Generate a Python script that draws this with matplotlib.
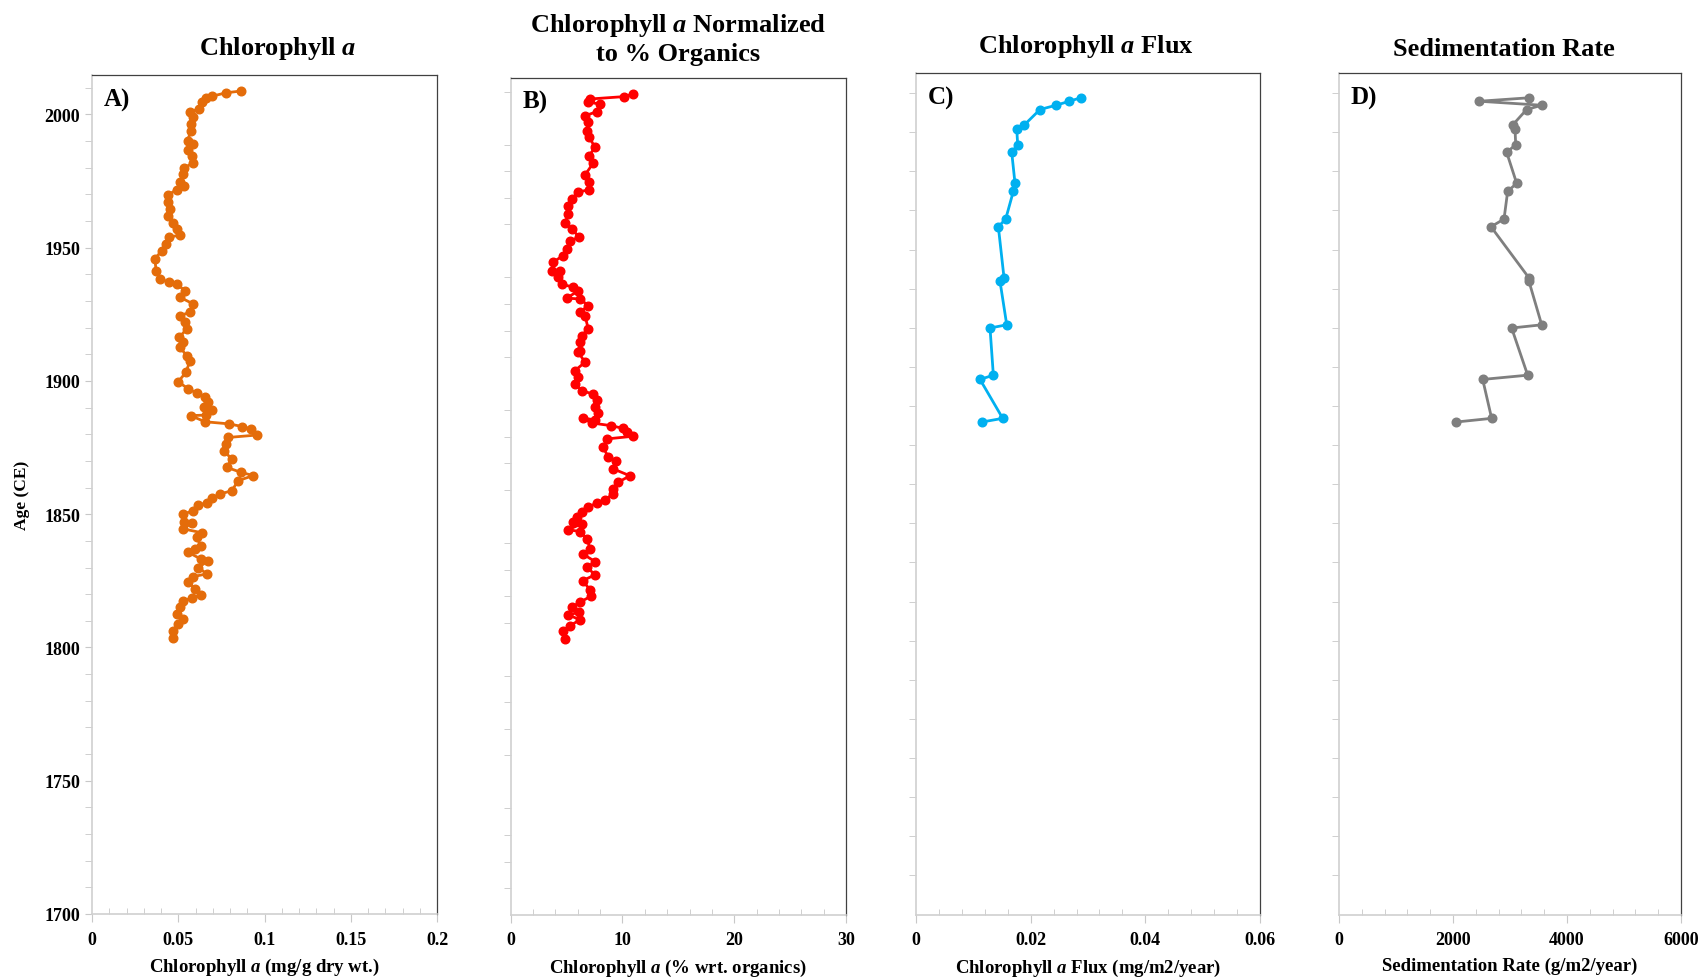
"""Sediment core profiles: chlorophyll a, normalized chl a, flux and sedimentation rate."""

import matplotlib

matplotlib.use("Agg")
import matplotlib.pyplot as plt
import numpy as np
from matplotlib.ticker import MultipleLocator, FixedLocator, FuncFormatter

plt.rcParams["font.family"] = ["Liberation Serif", "DejaVu Serif"]
plt.rcParams["font.weight"] = "bold"
plt.rcParams["axes.labelweight"] = "bold"
plt.rcParams["mathtext.fontset"] = "custom"
plt.rcParams["mathtext.rm"] = "Liberation Serif:bold"
plt.rcParams["mathtext.it"] = "Liberation Serif:italic:bold"

# --- data ---
chl_years = [
    2008.8, 2008.1, 2006.8, 2006.1, 2004.6, 2002.1, 2001.0, 1999.0, 1996.4, 1993.9,
    1990.2, 1988.9, 1986.8, 1984.3, 1981.8, 1979.8, 1977.7, 1974.8, 1973.0, 1971.8,
    1969.8, 1967.0, 1964.5, 1962.0, 1959.3, 1957.0, 1954.8, 1953.9, 1951.4, 1948.9,
    1945.8, 1941.4, 1938.3, 1937.0, 1936.4, 1933.9, 1931.4, 1928.9, 1925.8, 1924.5,
    1922.0, 1919.5, 1916.4, 1914.5, 1912.6, 1909.5, 1907.6, 1903.3, 1899.7, 1897.0,
    1895.5, 1893.9, 1892.0, 1890.1, 1889.2, 1887.2, 1887.0, 1884.7, 1883.9, 1882.9,
    1882.0, 1879.7, 1878.8, 1876.4, 1873.8, 1870.7, 1867.6, 1865.7, 1864.5, 1862.6,
    1858.8, 1857.6, 1856.0, 1854.2, 1853.5, 1851.3, 1850.1, 1847.0, 1846.7, 1844.5,
    1843.0, 1841.3, 1838.2, 1837.0, 1835.7, 1833.2, 1832.6, 1830.0, 1827.6, 1826.6,
    1824.5, 1822.0, 1819.7, 1818.5, 1817.6, 1815.1, 1812.6, 1810.7, 1808.8, 1806.3,
    1803.5,
]
chl_conc = [
    0.0864, 0.0775, 0.0694, 0.0661, 0.0636, 0.0622, 0.0568, 0.0587, 0.0574, 0.0574,
    0.0554, 0.0583, 0.0559, 0.0578, 0.0583, 0.0533, 0.0530, 0.0510, 0.0533, 0.0490,
    0.0442, 0.0442, 0.0452, 0.0442, 0.0471, 0.0490, 0.0510, 0.0448, 0.0429, 0.0404,
    0.0365, 0.0371, 0.0394, 0.0448, 0.0490, 0.0539, 0.0510, 0.0587, 0.0568, 0.0510,
    0.0539, 0.0549, 0.0506, 0.0530, 0.0510, 0.0549, 0.0568, 0.0545, 0.0500, 0.0559,
    0.0607, 0.0655, 0.0674, 0.0649, 0.0694, 0.0661, 0.0572, 0.0655, 0.0794, 0.0871,
    0.0920, 0.0954, 0.0790, 0.0775, 0.0765, 0.0810, 0.0781, 0.0864, 0.0935, 0.0848,
    0.0810, 0.0742, 0.0694, 0.0665, 0.0617, 0.0587, 0.0530, 0.0533, 0.0578, 0.0530,
    0.0640, 0.0607, 0.0630, 0.0597, 0.0559, 0.0630, 0.0675, 0.0617, 0.0665, 0.0587,
    0.0559, 0.0597, 0.0630, 0.0578, 0.0530, 0.0510, 0.0490, 0.0530, 0.0500, 0.0468,
    0.0471,
]

norm_years = [
    2009.1, 2008.1, 2007.2, 2006.0, 2005.3, 2002.4, 2000.9, 1998.5, 1995.3, 1992.8,
    1989.0, 1985.9, 1983.1, 1978.6, 1975.9, 1973.1, 1972.1, 1969.6, 1967.0, 1963.9,
    1960.5, 1958.3, 1955.1, 1953.9, 1950.7, 1948.2, 1945.7, 1942.6, 1942.6, 1940.1,
    1937.5, 1936.3, 1935.0, 1932.2, 1931.9, 1929.4, 1926.9, 1925.6, 1920.6, 1918.1,
    1915.6, 1912.4, 1911.8, 1908.1, 1904.9, 1902.4, 1899.9, 1897.4, 1896.1, 1894.0,
    1891.1, 1889.0, 1886.4, 1887.0, 1885.2, 1884.2, 1883.2, 1881.9, 1880.2, 1879.2,
    1876.0, 1872.3, 1871.0, 1867.9, 1865.3, 1862.9, 1860.3, 1858.5, 1856.3, 1855.1,
    1853.4, 1851.6, 1849.7, 1847.8, 1847.2, 1845.0, 1844.3, 1841.5, 1837.7, 1835.9,
    1833.0, 1830.8, 1828.0, 1825.8, 1822.4, 1819.9, 1817.7, 1815.8, 1813.9, 1812.9,
    1811.1, 1808.8, 1807.0, 1803.8,
]
norm_conc = [
    10.97, 10.13, 7.09, 6.94, 7.99, 7.69, 6.65, 6.94, 6.80, 7.03,
    7.54, 7.03, 7.39, 6.65, 7.03, 7.03, 6.05, 5.46, 5.15, 5.15,
    4.86, 5.46, 6.14, 5.30, 5.01, 4.65, 3.81, 3.67, 4.41, 4.26,
    4.56, 5.60, 6.05, 5.01, 6.20, 6.94, 6.20, 6.65, 6.94, 6.35,
    6.20, 6.20, 6.05, 6.65, 5.75, 6.05, 5.75, 6.35, 7.33, 7.69,
    7.54, 7.84, 7.54, 6.44, 7.24, 8.94, 10.02, 10.38, 10.97, 8.64,
    8.28, 8.73, 9.42, 9.18, 10.67, 9.62, 9.18, 9.18, 8.43, 7.69,
    6.94, 6.35, 5.90, 5.60, 6.35, 5.15, 6.20, 6.85, 7.09, 6.44,
    7.54, 6.85, 7.54, 6.44, 7.09, 7.16, 6.20, 5.46, 6.14, 5.15,
    6.20, 5.30, 4.70, 4.86,
]

dated_years = [
    2006.5, 2005.2, 2003.7, 2002.1, 1996.3, 1994.8, 1988.9, 1986.0, 1974.4, 1971.4,
    1961.0, 1958.1, 1938.9, 1937.6, 1921.3, 1920.1, 1902.4, 1900.8, 1886.2, 1884.8,
]
flux = [
    0.02873, 0.02675, 0.02443, 0.02164, 0.01891, 0.01759, 0.01776, 0.01672, 0.01729, 0.01700,
    0.01567, 0.01439, 0.01538, 0.01468, 0.01585, 0.01294, 0.01352, 0.01120, 0.01515, 0.01149,
]
sed_rate = [
    3333, 2462, 3556, 3292, 3047, 3088, 3100, 2942, 3117, 2959,
    2895, 2667, 3333, 3333, 3556, 3029, 3310, 2521, 2678, 2047,
]

W, H = 1707, 979
fig = plt.figure(figsize=(W / 100, H / 100), dpi=100)


def _axes_px(left, right, top, bottom):
    return fig.add_axes([left / W, 1 - bottom / H, (right - left) / W, (bottom - top) / H])


def _style(ax, xmax, xmajor, xminor, ymax, yticks_minor, show_ylabels):
    ax.set_xlim(0, xmax)
    ax.set_ylim(1700, ymax)
    ax.xaxis.set_major_locator(MultipleLocator(xmajor))
    ax.xaxis.set_minor_locator(MultipleLocator(xminor))
    ax.xaxis.set_major_formatter(FuncFormatter(lambda v, p: f"{v:g}"))
    ax.yaxis.set_major_locator(MultipleLocator(50))
    ax.yaxis.set_minor_locator(FixedLocator(yticks_minor))
    for side in ("left", "bottom"):
        ax.spines[side].set_color("#d0d0d0")
        ax.spines[side].set_linewidth(1.2)
    for side in ("top", "right"):
        ax.spines[side].set_color("#404040")
        ax.spines[side].set_linewidth(0.9)
    ax.tick_params(axis="x", which="major", direction="out", length=6, color="#c8c8c8",
                   labelsize=13, pad=6)
    ax.tick_params(axis="x", which="minor", direction="in", length=4, color="#c8c8c8")
    ax.tick_params(axis="y", which="both", direction="out", length=5, color="#c8c8c8",
                   labelsize=13, labelleft=show_ylabels)
    ax.tick_params(axis="y", which="major", length=0 if not show_ylabels else 5)


minor_10 = np.arange(1700, 2015, 10)
minor_cd = np.arange(1700, 2015, 14.68)

ax_a = _axes_px(92, 437, 76, 915)
ax_b = _axes_px(510.7, 846, 78.5, 915.7)
ax_c = _axes_px(915.7, 1260.3, 74, 915.5)
ax_d = _axes_px(1339, 1681, 74, 915.5)

_style(ax_a, 0.2, 0.05, 0.01, 2014.8, minor_10, True)
_style(ax_b, 30, 10, 2, 2015.3, minor_10, False)
_style(ax_c, 0.06, 0.02, 0.004, 2015.8, minor_cd, False)
_style(ax_d, 6000, 2000, 400, 2015.8, minor_cd, False)

ax_a.plot(chl_conc, chl_years, color="#e46c0a", lw=2.0, marker="o", ms=6.2, mec="#e46c0a")
ax_b.plot(norm_conc, norm_years, color="#ff0000", lw=2.0, marker="o", ms=6.2, mec="#ff0000")
ax_c.plot(flux, dated_years, color="#00b0f0", lw=2.0, marker="o", ms=6.2, mec="#00b0f0")
ax_d.plot(sed_rate, dated_years, color="#7f7f7f", lw=2.0, marker="o", ms=6.2, mec="#7f7f7f")

ax_a.set_xlabel("Chlorophyll $a$ (mg/g dry wt.)", fontsize=13.5, labelpad=6)
ax_b.set_xlabel("Chlorophyll $a$ (% wrt. organics)", fontsize=13.5, labelpad=6)
ax_c.set_xlabel("Chlorophyll $a$ Flux (mg/m2/year)", fontsize=13.5, labelpad=6)
ax_d.set_xlabel("Sedimentation Rate (g/m2/year)", fontsize=13.5, labelpad=6)
ax_a.set_ylabel("Age (CE)", fontsize=12.5, labelpad=10)

for ax, tag in zip((ax_a, ax_b, ax_c, ax_d), ("A)", "B)", "C)", "D)")):
    ax.text(0.035, 0.985, tag, transform=ax.transAxes, fontsize=18, fontweight="bold",
            ha="left", va="top")

fig.text(277.6 / W, 1 - 48 / H, "Chlorophyll $a$", fontsize=19, ha="center", va="center")
fig.text(678 / W, 1 - 39 / H, "Chlorophyll $a$ Normalized\nto % Organics", fontsize=19,
         ha="center", va="center", linespacing=1.2)
fig.text(1086 / W, 1 - 47 / H, "Chlorophyll $a$ Flux", fontsize=19, ha="center", va="center")
fig.text(1504 / W, 1 - 49 / H, "Sedimentation Rate", fontsize=19, ha="center", va="center")

fig.savefig("out.png", dpi=100, facecolor="white")
